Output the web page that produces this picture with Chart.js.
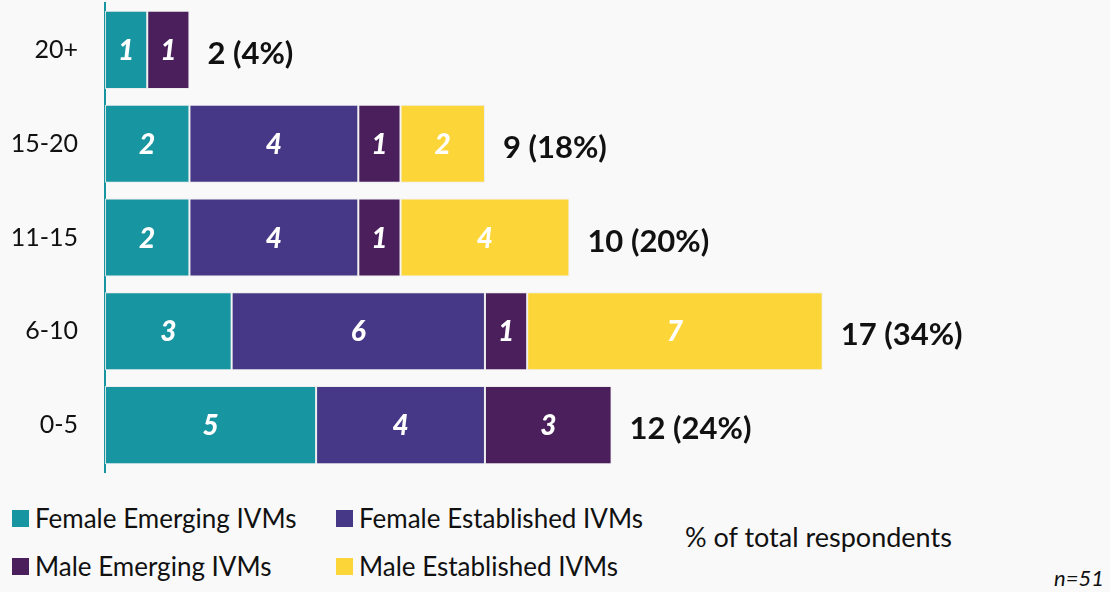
<!DOCTYPE html>
<html>
<head>
<meta charset="utf-8">
<script src="https://cdn.jsdelivr.net/npm/chart.js@4/dist/chart.umd.min.js"></script>
<style>
    html, body { margin: 0; padding: 0; background: #f9f9f9; }
    body { width: 1110px; height: 592px; position: relative; overflow: hidden; font-family: Lato, "Open Sans", sans-serif; color: #111; }
    #grafico { position: absolute; left: 0; top: 0; }
    .legenda { position: absolute; display: flex; align-items: center; font-size: 26px; line-height: 30px; white-space: nowrap; }
    .legenda span.caixa { display: inline-block; width: 17px; height: 17px; margin-right: 6px; }
    .nota { position: absolute; font-size: 27px; line-height: 30px; white-space: nowrap; }
</style>
</head>
<body>
<canvas id="grafico" width="1110" height="484"></canvas>
<div id="legenda"></div>
<div class="nota" style="left:685px; top:522px;">% of total respondents</div>
<div class="nota" style="left:1054px; top:563px; font-style:italic; font-size:22px;">n=51</div>

<script>
    const categorias = ['20+', '15-20', '11-15', '6-10', '0-5'];
    const femaleEmerging = [1, 2, 2, 3, 5];
    const femaleEstablished = [0, 4, 4, 6, 4];
    const maleEmerging = [1, 1, 1, 1, 3];
    const maleEstablished = [0, 2, 4, 7, 0];
    const totais = ['2 (4%)', '9 (18%)', '10 (20%)', '17 (34%)', '12 (24%)'];

    const series = [
        { label: 'Female Emerging IVMs', data: femaleEmerging, cor: '#1795a0' },
        { label: 'Female Established IVMs', data: femaleEstablished, cor: '#463886' },
        { label: 'Male Emerging IVMs', data: maleEmerging, cor: '#4a1f5c' },
        { label: 'Male Established IVMs', data: maleEstablished, cor: '#fcd639' },
    ];

    const rotulosPlugin = {
        id: 'rotulos',
        afterDatasetsDraw(chart) {
            const ctx = chart.ctx;
            ctx.save();
            ctx.textBaseline = 'middle';
            ctx.fillStyle = '#ffffff';
            ctx.textAlign = 'center';
            ctx.font = 'italic 900 28px Lato, sans-serif';
            chart.data.datasets.forEach((ds, i) => {
                const meta = chart.getDatasetMeta(i);
                meta.data.forEach((bar, j) => {
                    const v = ds.data[j];
                    if (!v) return;
                    ctx.fillText(String(v), (bar.x + bar.base) / 2, bar.y + 1);
                });
            });

            // total na ponta de cada barra
            ctx.fillStyle = '#111';
            ctx.textAlign = 'left';
            ctx.font = 'bold 31px Lato, sans-serif';
            const xScale = chart.scales.x;
            const yScale = chart.scales.y;
            categorias.forEach((c, j) => {
                let soma = 0;
                chart.data.datasets.forEach(ds => { soma += ds.data[j]; });
                ctx.fillText(totais[j], xScale.getPixelForValue(soma) + 18, yScale.getPixelForValue(j) + 4);
            });
            ctx.restore();
        },
    };

    const grafico = new Chart(document.getElementById('grafico'), {
        type: 'bar',
        data: {
            labels: categorias,
            datasets: series.map(s => ({
                label: s.label,
                data: s.data,
                backgroundColor: s.cor,
                borderColor: 'rgba(235,235,235,0.9)',
                borderWidth: 1,
                borderSkipped: false,
                barPercentage: 0.92,
                categoryPercentage: 0.905,
            })),
        },
        options: {
            indexAxis: 'y',
            responsive: false,
            animation: false,
            layout: { padding: { top: 3, bottom: 12, left: 0, right: 34 } },
            plugins: { legend: { display: false }, tooltip: { enabled: false } },
            scales: {
                x: { stacked: true, display: false, min: 0, max: 23 },
                y: {
                    stacked: true,
                    grid: { display: false, drawTicks: false },
                    border: { display: true, color: '#1795a0', width: 2 },
                    ticks: { color: '#111', padding: 27, font: { family: 'Lato', size: 25 } },
                    afterFit(scale) {
                        scale.width = 105;
                        scale.paddingTop = 0;
                        scale.paddingBottom = 0;
                    },
                },
            },
        },
        plugins: [rotulosPlugin],
    });

    // legenda em 2x2 montada a partir dos datasets
    const posicoes = [[12, 503], [336, 503], [12, 551], [336, 551]];
    const legenda = document.getElementById('legenda');
    grafico.data.datasets.forEach((ds, i) => {
        const item = document.createElement('div');
        item.className = 'legenda';
        item.style.left = posicoes[i][0] + 'px';
        item.style.top = posicoes[i][1] + 'px';
        item.innerHTML = '<span class="caixa" style="background:' + ds.backgroundColor + '"></span>' + ds.label;
        legenda.appendChild(item);
    });
</script>
</body>
</html>
